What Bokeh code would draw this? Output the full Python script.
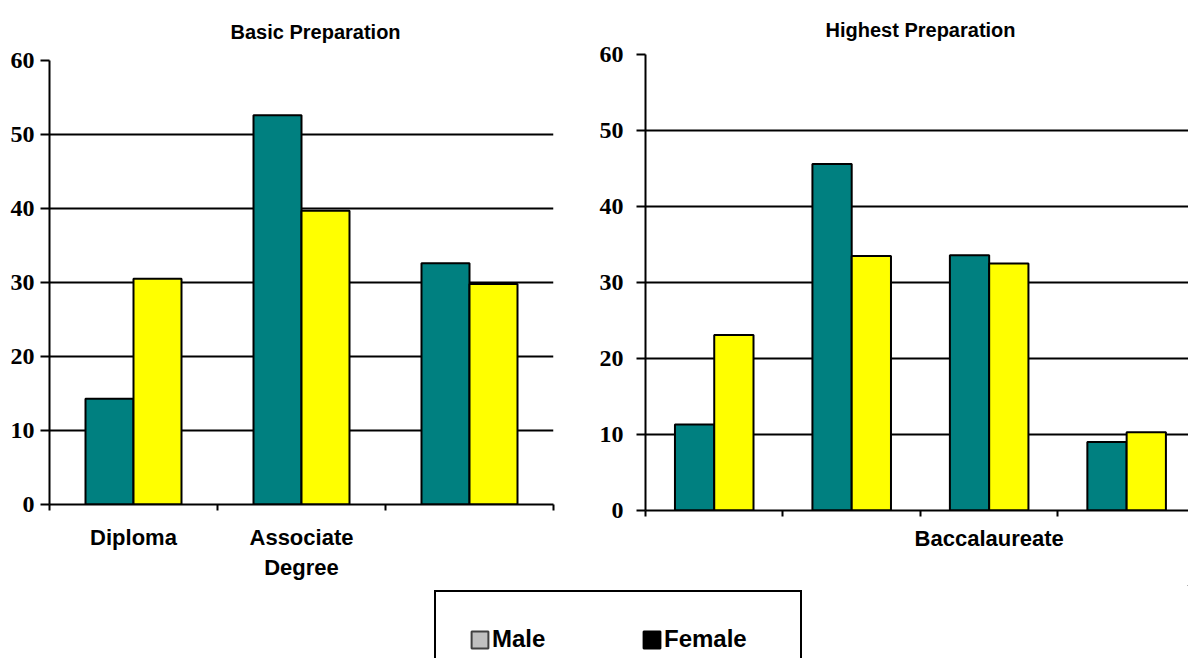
from bokeh.plotting import figure
from bokeh.models import ColumnDataSource, FixedTicker, Range1d, Legend, LegendItem
from bokeh.layouts import column, row
from bokeh.transform import dodge
from bokeh.embed import file_html
from bokeh.resources import INLINE

# Percentages by gender for each level of preparation
basic_labels = ["Diploma", "Associate\nDegree", ""]
basic_male = [14.3, 52.6, 32.6]
basic_female = [30.5, 39.7, 29.8]

highest_labels = ["", "", "Baccalaureate", ""]
highest_male = [11.3, 45.6, 33.6, 9.0]
highest_female = [23.1, 33.5, 32.5, 10.3]

y_ticks = [0, 10, 20, 30, 40, 50, 60]
series_names = ["Male", "Female"]
bar_colors = ["#008080", "#FFFF00"]
swatch_colors = ["#C0C0C0", "#000000"]
swatch_lines = ["#404040", "#000000"]

SANS = "Liberation Sans"
SERIF = "Liberation Serif"
BAR_W = 2 / 7  # two bars per category, gap of 1.5 bar widths


def make_chart(title, labels, male, female, size, borders, x_end,
               title_offset, title_standoff, ylabel_standoff, xlabel_standoff):
    n = len(labels)
    centers = [i + 0.5 for i in range(n)]
    src = ColumnDataSource(dict(pos=centers, male=male, female=female))
    left, right, top, bottom = borders
    p = figure(width=size[0], height=size[1],
               x_range=Range1d(0, x_end), y_range=Range1d(0, 60),
               min_border_left=left, min_border_right=right,
               min_border_top=top, min_border_bottom=bottom,
               output_backend="svg", toolbar_location=None)
    p.outline_line_color = None
    p.background_fill_color = "white"
    p.border_fill_color = "white"

    for col, off, color in (("male", -BAR_W / 2, bar_colors[0]),
                            ("female", BAR_W / 2, bar_colors[1])):
        p.vbar(x=dodge("pos", off, range=p.x_range), top=col, width=BAR_W,
               source=src, fill_color=color, line_color="black", line_width=2)

    # horizontal gridlines
    p.xgrid.visible = False
    p.ygrid.ticker = FixedTicker(ticks=y_ticks)
    p.ygrid.grid_line_color = "black"
    p.ygrid.grid_line_width = 2

    # value axis
    ya = p.yaxis[0]
    ya.ticker = FixedTicker(ticks=y_ticks)
    ya.axis_line_color = "black"
    ya.axis_line_width = 2
    ya.major_tick_out = 9
    ya.major_tick_in = 0
    ya.major_tick_line_width = 2
    ya.minor_tick_out = 0
    ya.minor_tick_in = 0
    ya.major_label_standoff = ylabel_standoff
    ya.major_label_text_font = SERIF
    ya.major_label_text_font_style = "bold"
    ya.major_label_text_font_size = "24px"
    ya.major_label_text_color = "black"

    # category axis: labels at centres, tick marks on the boundaries
    xa = p.xaxis[0]
    xa.ticker = FixedTicker(ticks=centers, minor_ticks=list(range(n + 1)))
    xa.major_label_overrides = {c: lab for c, lab in zip(centers, labels)}
    xa.axis_line_color = "black"
    xa.axis_line_width = 2
    xa.major_tick_out = 0
    xa.major_tick_in = 0
    xa.minor_tick_out = 6
    xa.minor_tick_in = 0
    xa.minor_tick_line_color = "black"
    xa.minor_tick_line_width = 2
    xa.major_label_standoff = xlabel_standoff
    xa.major_label_text_font = SANS
    xa.major_label_text_font_style = "bold"
    xa.major_label_text_font_size = "22px"
    xa.major_label_text_color = "black"

    p.title.text = title
    p.title.align = "left"
    p.title.offset = title_offset
    p.title.standoff = title_standoff
    p.title.text_font = SANS
    p.title.text_font_style = "bold"
    p.title.text_font_size = "20px"
    p.title.text_color = "black"
    return p


p1 = make_chart("Basic Preparation", basic_labels, basic_male, basic_female,
                (575, 585), (49, 22, 60, 81), 3, 181, 36, 6, 14)
p2 = make_chart("Highest Preparation", highest_labels, highest_male, highest_female,
                (613, 585), (70, 0, 54, 75), 3.95, 180, 28, 13, 9)

# legend strip below both charts
p3 = figure(width=1188, height=73, x_range=Range1d(0, 1), y_range=Range1d(0, 1),
            x_axis_type=None, y_axis_type=None,
            min_border_left=429, min_border_right=0,
            min_border_top=0, min_border_bottom=0,
            output_backend="svg", toolbar_location=None)
p3.outline_line_color = None
p3.grid.visible = False
items = []
for name, fc, lc in zip(series_names, swatch_colors, swatch_lines):
    # swatch renderers sit outside the visible range; only their legend entries show
    r = p3.vbar(x=[5], top=[5], bottom=[4], width=0.1,
                fill_color=fc, line_color=lc, line_width=2)
    items.append(LegendItem(label=name, renderers=[r]))
legend = Legend(items=items, location="top_left", margin=5,
                orientation="horizontal",
                padding=33, spacing=46, glyph_width=21, glyph_height=21,
                label_standoff=2, label_width=103, label_height=21,
                label_text_font=SANS, label_text_font_style="bold",
                label_text_font_size="24px", label_text_color="black",
                label_text_line_height=0.9,
                border_line_color="black", border_line_width=2,
                border_line_alpha=1.0,
                background_fill_color="white", background_fill_alpha=1.0)
p3.add_layout(legend)

layout = column(row(column(p1), column(p2), spacing=0), p3, spacing=0)

with open("out.html", "w") as f:
    f.write(file_html(layout, INLINE))
